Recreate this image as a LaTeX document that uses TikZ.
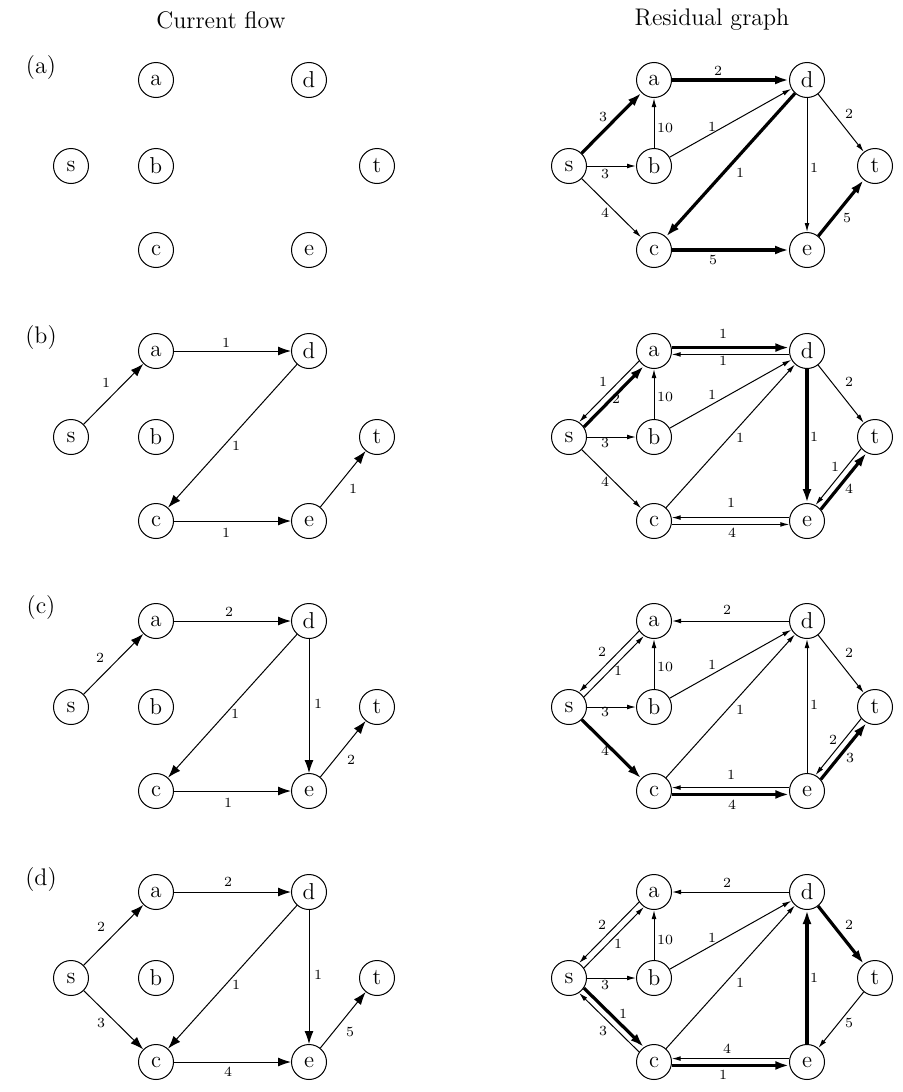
\documentclass[tikz,border=0pt]{standalone}
\usetikzlibrary{arrows.meta}
\newcommand\mkgraph[3]{%
  \begin{scope}[shift={(#2,#3)}]
    \node[vx] (#1s) at (71,166) {s};
    \node[vx] (#1a) at (156,80) {a};
    \node[vx] (#1b) at (156,166) {b};
    \node[vx] (#1c) at (156,250) {c};
    \node[vx] (#1d) at (309,80) {d};
    \node[vx] (#1e) at (309,250) {e};
    \node[vx] (#1t) at (377,166) {t};
  \end{scope}}
\begin{document}
\begin{tikzpicture}[x=0.5pt,y=-0.5pt,
  vx/.style={circle,draw,line width=0.5pt,minimum size=17.5pt,inner sep=0pt,font=\fontsize{11.5}{12}\selectfont},
  lab/.style={inner sep=0pt,font=\fontsize{7}{8}\selectfont},
  ttl/.style={inner sep=0pt,font=\fontsize{12}{14}\selectfont},
  fl/.style={line width=0.5pt,-{Latex[length=6.5pt,width=4.5pt]}},
  rt/.style={line width=0.5pt,-{Latex[length=4.5pt,width=2.4pt]}},
  rk/.style={line width=1.6pt,-{Latex[length=7pt,width=4.5pt]}}]
\useasboundingbox (0,0) rectangle (903,1092);
% titles
\node[ttl] (title1) at (221,20) {Current flow};
\node[ttl] (title2) at (712,20) {Residual graph};
\node[ttl] (pa) at (41,68) {(a)};
\node[ttl] (pb) at (41,338) {(b)};
\node[ttl] (pc) at (41,608) {(c)};
\node[ttl] (pd) at (41,879) {(d)};
% nodes
\mkgraph{L1}{0}{0}
\mkgraph{R1}{498}{0}
\mkgraph{L2}{0}{271}
\mkgraph{R2}{498}{271}
\mkgraph{L3}{0}{541}
\mkgraph{R3}{498}{541}
\mkgraph{L4}{0}{812}
\mkgraph{R4}{498}{812}

% ---------- Residual (a)
\draw[rk] (R1s) -- (R1a);
\draw[rk] (R1a) -- (R1d);
\draw[rk] (R1d) -- (R1c);
\draw[rk] (R1c) -- (R1e);
\draw[rk] (R1e) -- (R1t);
\draw[rt] (R1b) -- (R1a);
\draw[rt] (R1b) -- (R1d);
\draw[rt] (R1s) -- (R1b);
\draw[rt] (R1s) -- (R1c);
\draw[rt] (R1d) -- (R1e);
\draw[rt] (R1d) -- (R1t);
\node[lab] (R1lsa) at (603,117) {3};
\node[lab] (R1lad) at (718,71) {2};
\node[lab] (R1lba) at (665,128) {10};
\node[lab] (R1lbd) at (712,127) {1};
\node[lab] (R1ldt) at (849,114) {2};
\node[lab] (R1lsb) at (605,174) {3};
\node[lab] (R1ldc) at (740,173) {1};
\node[lab] (R1lde) at (814,168) {1};
\node[lab] (R1lsc) at (605,213) {4};
\node[lab] (R1let) at (847,218) {5};
\node[lab] (R1lce) at (713,260) {5};

% ---------- Current flow (b)
\draw[fl] (L2s) -- (L2a);
\draw[fl] (L2a) -- (L2d);
\draw[fl] (L2d) -- (L2c);
\draw[fl] (L2c) -- (L2e);
\draw[fl] (L2e) -- (L2t);
\node[lab] (L2lsa) at (106,383) {1};
\node[lab] (L2lad) at (226,343) {1};
\node[lab] (L2ldc) at (236,446) {1};
\node[lab] (L2lce) at (226,533) {1};
\node[lab] (L2let) at (353,489) {1};

% ---------- Residual (b)
\draw[rt] (R2b) -- (R2a);
\draw[rt] (R2b) -- (R2d);
\draw[rt] (R2s) -- (R2b);
\draw[rt] (R2s) -- (R2c);
\draw[rt] (R2c) -- (R2d);
\draw[rt] (R2d) -- (R2t);
\draw[rk] (R2d) -- (R2e);
\draw[rk] (R2a.11) -- (R2d.169);
\draw[rt] (R2d.191) -- (R2a.-11);
\draw[rt] (R2a.214) -- (R2s.56);
\draw[rk] (R2s.34) -- (R2a.236);
\draw[rt] (R2t.220) -- (R2e.62);
\draw[rk] (R2e.40) -- (R2t.242);
\draw[rt] (R2e.169) -- (R2c.11);
\draw[rt] (R2c.-11) -- (R2e.191);
\node[lab] (R2lad) at (723,334) {1};
\node[lab] (R2lda) at (723,361) {1};
\node[lab] (R2las) at (603,382) {1};
\node[lab] (R2lsa) at (616,399) {2};
\node[lab] (R2lba) at (665,397) {10};
\node[lab] (R2lbd) at (712,395) {1};
\node[lab] (R2lsb) at (605,443) {3};
\node[lab] (R2lsc) at (605,482) {4};
\node[lab] (R2lcd) at (740,438) {1};
\node[lab] (R2lde) at (814,437) {1};
\node[lab] (R2ldt) at (849,382) {2};
\node[lab] (R2lte) at (835,467) {1};
\node[lab] (R2let) at (849,489) {4};
\node[lab] (R2lec) at (731,503) {1};
\node[lab] (R2lce) at (732,533) {4};

% ---------- Current flow (c)
\draw[fl] (L3s) -- (L3a);
\draw[fl] (L3a) -- (L3d);
\draw[fl] (L3d) -- (L3c);
\draw[fl] (L3d) -- (L3e);
\draw[fl] (L3c) -- (L3e);
\draw[fl] (L3e) -- (L3t);
\node[lab] (L3lsa) at (100,658) {2};
\node[lab] (L3lad) at (229,612) {2};
\node[lab] (L3ldc) at (235,714) {1};
\node[lab] (L3lde) at (318,704) {1};
\node[lab] (L3lce) at (228,803) {1};
\node[lab] (L3let) at (351,760) {2};

% ---------- Residual (c)
\draw[rt] (R3d) -- (R3a);
\draw[rt] (R3b) -- (R3a);
\draw[rt] (R3b) -- (R3d);
\draw[rt] (R3s) -- (R3b);
\draw[rt] (R3c) -- (R3d);
\draw[rt] (R3e) -- (R3d);
\draw[rt] (R3d) -- (R3t);
\draw[rk] (R3s) -- (R3c);
\draw[rt] (R3a.214) -- (R3s.56);
\draw[rt] (R3s.34) -- (R3a.236);
\draw[rt] (R3t.220) -- (R3e.62);
\draw[rk] (R3e.40) -- (R3t.242);
\draw[rt] (R3e.169) -- (R3c.11);
\draw[rk] (R3c.-11) -- (R3e.191);
\node[lab] (R3lda) at (727,610) {2};
\node[lab] (R3las) at (602,652) {2};
\node[lab] (R3lsa) at (618,671) {1};
\node[lab] (R3lba) at (665,667) {10};
\node[lab] (R3lbd) at (712,665) {1};
\node[lab] (R3lsb) at (605,712) {3};
\node[lab] (R3lsc) at (605,751) {4};
\node[lab] (R3lcd) at (740,710) {1};
\node[lab] (R3led) at (814,705) {1};
\node[lab] (R3ldt) at (849,653) {2};
\node[lab] (R3lte) at (833,740) {2};
\node[lab] (R3let) at (850,758) {3};
\node[lab] (R3lec) at (731,775) {1};
\node[lab] (R3lce) at (732,805) {4};

% ---------- Current flow (d)
\draw[fl] (L4s) -- (L4a);
\draw[fl] (L4s) -- (L4c);
\draw[fl] (L4a) -- (L4d);
\draw[fl] (L4d) -- (L4c);
\draw[fl] (L4d) -- (L4e);
\draw[fl] (L4c) -- (L4e);
\draw[fl] (L4e) -- (L4t);
\node[lab] (L4lsa) at (101,927) {2};
\node[lab] (L4lad) at (228,882) {2};
\node[lab] (L4ldc) at (236,985) {1};
\node[lab] (L4lde) at (318,975) {1};
\node[lab] (L4lsc) at (101,1023) {3};
\node[lab] (L4lce) at (228,1072) {4};
\node[lab] (L4let) at (350,1032) {5};

% ---------- Residual (d)
\draw[rt] (R4d) -- (R4a);
\draw[rt] (R4b) -- (R4a);
\draw[rt] (R4b) -- (R4d);
\draw[rt] (R4s) -- (R4b);
\draw[rt] (R4c) -- (R4d);
\draw[rt] (R4t) -- (R4e);
\draw[rk] (R4e) -- (R4d);
\draw[rk] (R4d) -- (R4t);
\draw[rt] (R4a.214) -- (R4s.56);
\draw[rt] (R4s.34) -- (R4a.236);
\draw[rk] (R4s.-34) -- (R4c.124);
\draw[rt] (R4c.146) -- (R4s.-56);
\draw[rt] (R4e.169) -- (R4c.11);
\draw[rk] (R4c.-11) -- (R4e.191);
\node[lab] (R4lda) at (727,883) {2};
\node[lab] (R4las) at (602,925) {2};
\node[lab] (R4lsa) at (618,944) {1};
\node[lab] (R4lba) at (665,940) {10};
\node[lab] (R4lbd) at (712,938) {1};
\node[lab] (R4lsb) at (605,985) {3};
\node[lab] (R4lsc) at (623,1014) {1};
\node[lab] (R4lcs) at (603,1031) {3};
\node[lab] (R4lcd) at (740,983) {1};
\node[lab] (R4led) at (814,978) {1};
\node[lab] (R4ldt) at (849,925) {2};
\node[lab] (R4lte) at (849,1023) {5};
\node[lab] (R4lec) at (727,1049) {4};
\node[lab] (R4lce) at (723,1075) {1};
\end{tikzpicture}
\end{document}
